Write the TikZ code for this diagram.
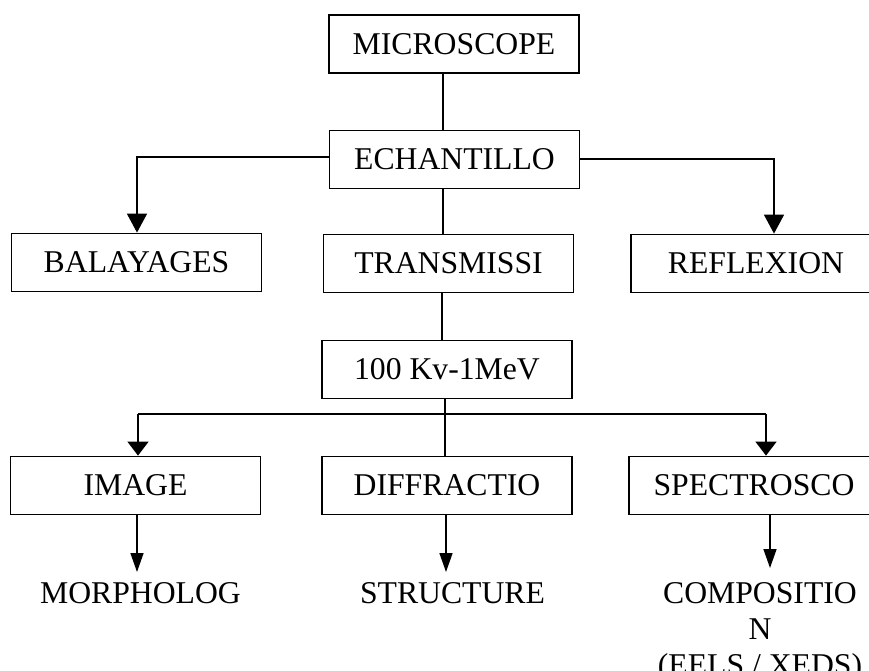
\documentclass[tikz,border=0pt]{standalone}
\usepackage{fontspec}
\setmainfont{Liberation Serif}
\usetikzlibrary{arrows.meta}
\begin{document}
\begin{tikzpicture}[x=1pt,y=-1pt,
  txt/.style={font=\fontsize{31.7}{36}\selectfont},
  box/.style={txt,draw,line width=1.8pt,minimum width=250pt,minimum height=58pt,inner sep=0pt},
  lbl/.style={txt,inner sep=0pt,align=center},
  conn/.style={line width=1.5pt},
  bigarrow/.style={conn,-{Triangle[width=20pt,length=19pt]}},
  midarrow/.style={conn,-{Triangle[width=21pt,length=14pt]}},
  smallarrow/.style={conn,-{Triangle[width=13pt,length=19pt]}}
]
\useasboundingbox (0,0) rectangle (869,670);
\node[box] (micro) at (454,44) {MICROSCOPE};
\node[box] (ech) at (454.5,159.5) {ECHANTILLO};
\node[box] (bal) at (136.5,262.5) {BALAYAGES};
\node[box] (trans) at (448.5,263.5) {TRANSMISSI};
\node[box] (refl) at (756,263.5) {REFLEXION};
\node[box] (kv) at (447,369.5) {100 Kv-1MeV};
\node[box] (img) at (135.5,485.5) {IMAGE};
\node[box] (diff) at (447,485.5) {DIFFRACTIO};
\node[box] (spec) at (754,485.5) {SPECTROSCO};
\node[lbl,anchor=north] (morph) at (140.5,582) {MORPHOLOG};
\node[lbl,anchor=north] (struct) at (452.5,582) {STRUCTURE};
\node[lbl,anchor=north] (comp) at (760,582) {COMPOSITIO\\N\\(EELS / XEDS)};
\coordinate (t1) at (443,0);
\coordinate (t2) at (442,0);
\coordinate (t3) at (445,0);
\coordinate (lx) at (137,157);
\coordinate (rx) at (774,159);
\coordinate (busL) at (138,414);
\coordinate (busR) at (766,414);
\coordinate (a1) at (137,0);
\coordinate (a2) at (446,0);
\coordinate (a3) at (770,0);
\draw[conn] (micro.south -| t1) -- (ech.north -| t1);
\draw[bigarrow] (ech.west |- lx) -- (lx) -- (bal.north -| lx);
\draw[bigarrow] (ech.east |- rx) -- (rx) -- (refl.north -| rx);
\draw[conn] (ech.south -| t1) -- (trans.north -| t1);
\draw[conn] (trans.south -| t2) -- (kv.north -| t2);
\draw[conn] (kv.south -| t3) -- (diff.north -| t3);
\draw[conn] (busL) -- (busR);
\draw[midarrow] (busL) -- (img.north -| busL);
\draw[midarrow] (busR) -- (spec.north -| busR);
\draw[smallarrow,shorten >=10pt] (img.south -| a1) -- (morph.north -| a1);
\draw[smallarrow,shorten >=10pt] (diff.south -| a2) -- (struct.north -| a2);
\draw[smallarrow,shorten >=14pt] (spec.south -| a3) -- (comp.north -| a3);
\end{tikzpicture}
\end{document}
